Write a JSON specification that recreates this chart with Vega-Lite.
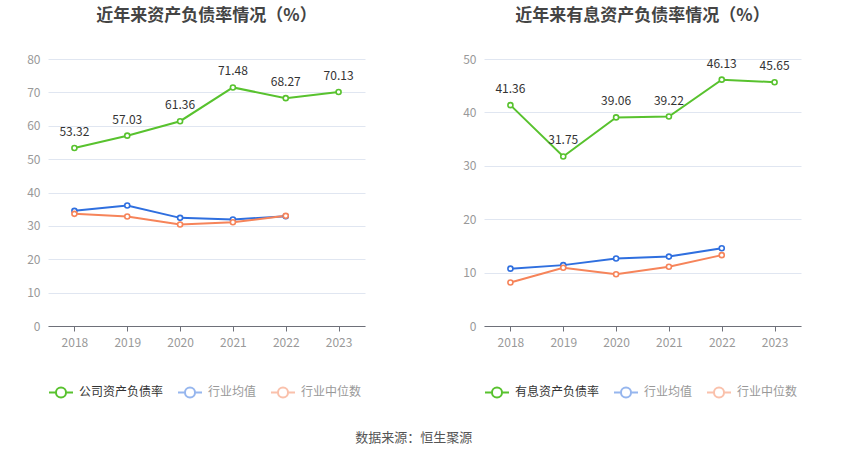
{
  "$schema": "https://vega.github.io/schema/vega-lite/v6.json",
  "background": "white",
  "padding": {"left": 26, "top": 7, "right": 5, "bottom": 8},
  "datasets": {
    "debt": [
      {"year": "2018", "series": "公司资产负债率", "rate": 53.32},
      {"year": "2019", "series": "公司资产负债率", "rate": 57.03},
      {"year": "2020", "series": "公司资产负债率", "rate": 61.36},
      {"year": "2021", "series": "公司资产负债率", "rate": 71.48},
      {"year": "2022", "series": "公司资产负债率", "rate": 68.27},
      {"year": "2023", "series": "公司资产负债率", "rate": 70.13},
      {"year": "2018", "series": "行业均值", "rate": 34.5},
      {"year": "2019", "series": "行业均值", "rate": 36.1},
      {"year": "2020", "series": "行业均值", "rate": 32.4},
      {"year": "2021", "series": "行业均值", "rate": 31.9},
      {"year": "2022", "series": "行业均值", "rate": 32.9},
      {"year": "2018", "series": "行业中位数", "rate": 33.6},
      {"year": "2019", "series": "行业中位数", "rate": 32.8},
      {"year": "2020", "series": "行业中位数", "rate": 30.4},
      {"year": "2021", "series": "行业中位数", "rate": 31.1},
      {"year": "2022", "series": "行业中位数", "rate": 33.0}
    ],
    "interest": [
      {"year": "2018", "series": "有息资产负债率", "rate": 41.36},
      {"year": "2019", "series": "有息资产负债率", "rate": 31.75},
      {"year": "2020", "series": "有息资产负债率", "rate": 39.06},
      {"year": "2021", "series": "有息资产负债率", "rate": 39.22},
      {"year": "2022", "series": "有息资产负债率", "rate": 46.13},
      {"year": "2023", "series": "有息资产负债率", "rate": 45.65},
      {"year": "2018", "series": "行业均值", "rate": 10.74},
      {"year": "2019", "series": "行业均值", "rate": 11.4},
      {"year": "2020", "series": "行业均值", "rate": 12.65},
      {"year": "2021", "series": "行业均值", "rate": 13.0},
      {"year": "2022", "series": "行业均值", "rate": 14.57},
      {"year": "2018", "series": "行业中位数", "rate": 8.15},
      {"year": "2019", "series": "行业中位数", "rate": 10.9},
      {"year": "2020", "series": "行业中位数", "rate": 9.7},
      {"year": "2021", "series": "行业中位数", "rate": 11.1},
      {"year": "2022", "series": "行业中位数", "rate": 13.27}
    ]
  },
  "title": {
    "text": "数据来源：恒生聚源",
    "orient": "bottom",
    "anchor": "middle",
    "fontSize": 13,
    "fontWeight": "normal",
    "color": "#555",
    "offset": 30
  },
  "config": {
    "font": "Noto Sans CJK SC",
    "view": {"stroke": null},
    "axisX": {
      "title": null,
      "labelAngle": 0,
      "labelColor": "#999",
      "labelFontSize": 12,
      "labelPadding": 6,
      "domainColor": "#6e7079",
      "tickColor": "#6e7079",
      "tickSize": 5,
      "grid": false
    },
    "axisY": {
      "title": null,
      "domain": false,
      "ticks": false,
      "labelColor": "#999",
      "labelFontSize": 12,
      "labelPadding": 8,
      "gridColor": "#e0e6f1"
    },
    "legend": {
      "orient": "bottom",
      "direction": "horizontal",
      "title": null,
      "labelFontSize": 12,
      "labelColor": "#333",
      "symbolType": "M-1,0H-0.42M0.42,0H1M0.42,0A0.42,0.42,0,1,1,-0.42,0A0.42,0.42,0,1,1,0.42,0",
      "symbolSize": 576,
      "symbolStrokeWidth": 2,
      "columnPadding": 10,
      "labelOffset": 5,
      "offset": 31
    },
    "title": {"fontSize": 17, "fontWeight": "bold", "color": "#444", "anchor": "middle", "offset": 28}
  },
  "spacing": 97,
  "resolve": {"scale": {"color": "independent", "stroke": "independent"}},
  "hconcat": [
    {
      "width": 317,
      "height": 267,
      "title": "近年来资产负债率情况（%）",
      "data": {"name": "debt"},
      "encoding": {
        "x": {"field": "year", "type": "ordinal", "scale": {"type": "point", "padding": 0.5, "domain": ["2018", "2019", "2020", "2021", "2022", "2023"]}},
        "y": {"field": "rate", "type": "quantitative", "scale": {"domain": [0, 80]}, "axis": {"values": [0, 10, 20, 30, 40, 50, 60, 70, 80]}}
      },
      "layer": [
        {
          "mark": {"type": "line", "strokeWidth": 2},
          "encoding": {
            "color": {
              "field": "series", "type": "nominal",
              "scale": {"domain": ["公司资产负债率", "行业均值", "行业中位数"], "range": ["#58c22e", "#2f6fdf", "#f6845a"]},
              "legend": {
                "encode": {
                  "symbols": {"update": {"fill": {"value": "white"}, "opacity": {"signal": "datum.value == '公司资产负债率' ? 1 : 0.5"}}},
                  "labels": {"update": {"fill": {"signal": "datum.value == '公司资产负债率' ? '#333' : '#999'"}}}
                }
              }
            }
          }
        },
        {
          "mark": {"type": "point", "filled": true, "size": 25, "strokeWidth": 1.6, "opacity": 1},
          "encoding": {
            "color": {"value": "white"},
            "stroke": {
              "field": "series", "type": "nominal",
              "scale": {"domain": ["公司资产负债率", "行业均值", "行业中位数"], "range": ["#58c22e", "#2f6fdf", "#f6845a"]},
              "legend": null
            }
          }
        },
        {
          "transform": [{"filter": "datum.series == '公司资产负债率'"}],
          "mark": {"type": "text", "dy": -16, "fontSize": 12, "color": "#333"},
          "encoding": {"text": {"field": "rate", "type": "quantitative", "format": ".2f"}}
        }
      ]
    },
    {
      "width": 317,
      "height": 267,
      "title": "近年来有息资产负债率情况（%）",
      "data": {"name": "interest"},
      "encoding": {
        "x": {"field": "year", "type": "ordinal", "scale": {"type": "point", "padding": 0.5, "domain": ["2018", "2019", "2020", "2021", "2022", "2023"]}},
        "y": {"field": "rate", "type": "quantitative", "scale": {"domain": [0, 50]}, "axis": {"values": [0, 10, 20, 30, 40, 50]}}
      },
      "layer": [
        {
          "mark": {"type": "line", "strokeWidth": 2},
          "encoding": {
            "color": {
              "field": "series", "type": "nominal",
              "scale": {"domain": ["有息资产负债率", "行业均值", "行业中位数"], "range": ["#58c22e", "#2f6fdf", "#f6845a"]},
              "legend": {
                "encode": {
                  "symbols": {"update": {"fill": {"value": "white"}, "opacity": {"signal": "datum.value == '有息资产负债率' ? 1 : 0.5"}}},
                  "labels": {"update": {"fill": {"signal": "datum.value == '有息资产负债率' ? '#333' : '#999'"}}}
                }
              }
            }
          }
        },
        {
          "mark": {"type": "point", "filled": true, "size": 25, "strokeWidth": 1.6, "opacity": 1},
          "encoding": {
            "color": {"value": "white"},
            "stroke": {
              "field": "series", "type": "nominal",
              "scale": {"domain": ["有息资产负债率", "行业均值", "行业中位数"], "range": ["#58c22e", "#2f6fdf", "#f6845a"]},
              "legend": null
            }
          }
        },
        {
          "transform": [{"filter": "datum.series == '有息资产负债率'"}],
          "mark": {"type": "text", "dy": -16, "fontSize": 12, "color": "#333"},
          "encoding": {"text": {"field": "rate", "type": "quantitative", "format": ".2f"}}
        }
      ]
    }
  ]
}
